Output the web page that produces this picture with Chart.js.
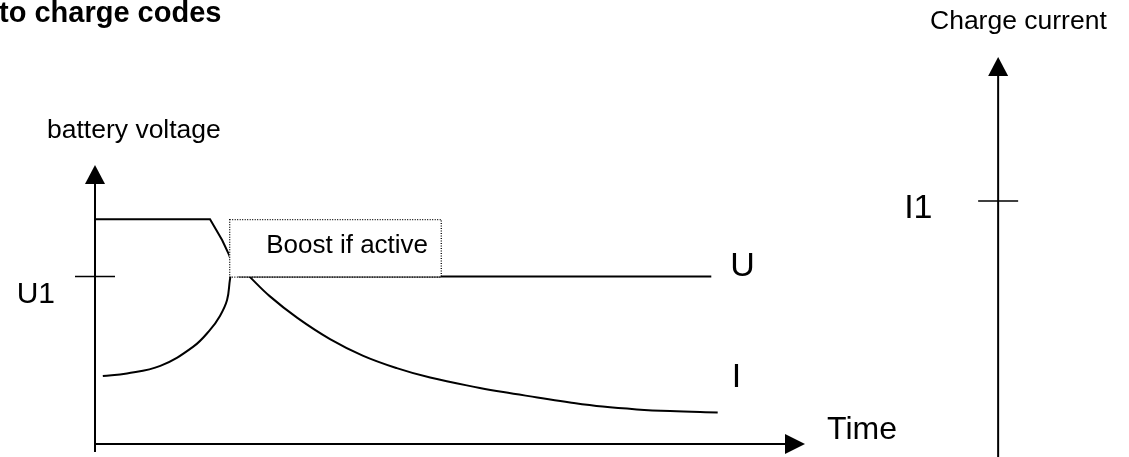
<!DOCTYPE html>
<html>
<head>
<meta charset="utf-8">
<script src="https://cdn.jsdelivr.net/npm/chart.js@4"></script>
<style>
  html, body { margin: 0; padding: 0; background: #fff; }
  #wrap { width: 1129px; height: 457px; position: relative; }
</style>
</head>
<body>
<div id="wrap"><canvas id="chart"></canvas></div>
<script>
// battery voltage U (time units, level units)
const uTime  = [0, 16.2, 17.0, 17.9, 18.9, 19.6, 20.3, 86.8];
const uLevel = [80.6, 80.6, 77.1, 73.1, 67.7, 62.4, 60, 60];

// charge current I, rising part (ends under the boost box)
const iRiseTime  = [1.1, 4.5, 9.2, 13.8, 16.2, 17.6, 18.6, 19.0, 19.3];
const iRiseLevel = [24.4, 25.3, 28.0, 34.8, 40.9, 45.9, 51.6, 58.8, 63.1];

// charge current I, falling part
const iFallTime  = [20.6, 21.8, 24.6, 28.5, 33.1, 37.7, 42.5, 47.2, 54.2, 57.5, 62.3, 66.9, 71.5, 76.3, 81.0, 87.7];
const iFallLevel = [63.0, 59.9, 53.0, 45.2, 37.6, 31.7, 27.2, 23.8, 20.1, 18.6, 16.7, 14.9, 13.4, 12.4, 11.8, 11.3];

// axes and markers
const timeAxisEnd = 100;
const voltAxisTop = 100;
const axisFloor = -2.9;
const u1Level = 60;
const currentAxisTime = 127.2;
const currentAxisTop = 138.7;
const i1Level = 87.1;

// "Boost if active" box
const boostFrom = 18.9;
const boostTo = 48.7;
const boostTop = 80.6;
const boostBottom = 60;

const toPoints = (xs, ys) => xs.map((v, i) => ({ x: v, y: ys[i] }));

const FONT = '"Liberation Sans", Arial, sans-serif';

const diagram = {
    id: 'diagram',
    afterDatasetsDraw(chart) {
        const ctx = chart.ctx;
        const sx = chart.scales.x, sy = chart.scales.y;
        const px = v => sx.getPixelForValue(v);
        const py = v => sy.getPixelForValue(v);

        ctx.save();
        ctx.strokeStyle = '#000';
        ctx.fillStyle = '#000';

        // boost box
        const bx0 = px(boostFrom), bx1 = px(boostTo), by0 = py(boostTop), by1 = py(boostBottom);
        ctx.fillStyle = '#fff';
        ctx.fillRect(bx0, by0, bx1 - bx0, by1 - by0);
        ctx.setLineDash([1, 1.5]);
        ctx.lineWidth = 1.3;
        ctx.strokeRect(bx0 + 0.5, by0 + 0.5, bx1 - bx0, by1 - by0);
        ctx.setLineDash([]);
        ctx.fillStyle = '#000';

        function arrowUp(x, tip) {
            ctx.beginPath();
            ctx.moveTo(x, tip);
            ctx.lineTo(x - 10, tip + 19);
            ctx.lineTo(x + 10, tip + 19);
            ctx.closePath();
            ctx.fill();
        }

        ctx.lineWidth = 2;
        // voltage axis
        const ox = px(0), oy = py(0);
        ctx.beginPath();
        ctx.moveTo(ox, py(axisFloor));
        ctx.lineTo(ox, py(voltAxisTop) + 18);
        ctx.stroke();
        arrowUp(ox, py(voltAxisTop));

        // time axis
        const tx = px(timeAxisEnd);
        ctx.beginPath();
        ctx.moveTo(ox, oy);
        ctx.lineTo(tx - 18, oy);
        ctx.stroke();
        ctx.beginPath();
        ctx.moveTo(tx, oy);
        ctx.lineTo(tx - 20, oy - 10);
        ctx.lineTo(tx - 20, oy + 10);
        ctx.closePath();
        ctx.fill();

        // current axis
        const cx = px(currentAxisTime);
        ctx.beginPath();
        ctx.moveTo(cx, chart.height + 2);
        ctx.lineTo(cx, py(currentAxisTop) + 18);
        ctx.stroke();
        arrowUp(cx, py(currentAxisTop));

        // ticks
        ctx.lineWidth = 1.5;
        ctx.beginPath();
        ctx.moveTo(ox - 20, py(u1Level));
        ctx.lineTo(ox + 20, py(u1Level));
        ctx.moveTo(cx - 20, py(i1Level));
        ctx.lineTo(cx + 20, py(i1Level));
        ctx.stroke();

        // texts
        ctx.textBaseline = 'alphabetic';
        ctx.textAlign = 'left';
        ctx.font = 'bold 29px ' + FONT;
        ctx.fillText('to charge codes', -1, 22);
        ctx.font = '26.5px ' + FONT;
        ctx.fillText('battery voltage', 47, 138);
        ctx.fillText('Charge current', 930, 29);
        ctx.font = '26px ' + FONT;
        ctx.fillText('Boost if active', bx0 + 37, by0 + 34);
        ctx.font = '30px ' + FONT;
        ctx.textAlign = 'right';
        ctx.fillText('U1', ox - 40, py(u1Level) + 26);
        ctx.textAlign = 'left';
        ctx.font = '34px ' + FONT;
        ctx.fillText('I1', cx - 94, py(i1Level) + 17);
        ctx.fillText('U', px(uTime[uTime.length - 1]) + 19, py(uLevel[uLevel.length - 1]) - 1);
        ctx.fillText('I', px(iFallTime[iFallTime.length - 1]) + 14, py(iFallLevel[iFallLevel.length - 1]) - 25);
        ctx.font = '32px ' + FONT;
        ctx.fillText('Time', tx + 22, oy - 5);

        ctx.restore();
    }
};

const lineStyle = {
    showLine: true,
    borderColor: '#000',
    borderWidth: 2,
    pointRadius: 0
};

new Chart(document.getElementById('chart'), {
    type: 'scatter',
    data: {
        datasets: [
            Object.assign({ label: 'U', data: toPoints(uTime, uLevel), tension: 0 }, lineStyle),
            Object.assign({ label: 'I rise', data: toPoints(iRiseTime, iRiseLevel), tension: 0.4 }, lineStyle),
            Object.assign({ label: 'I fall', data: toPoints(iFallTime, iFallLevel), tension: 0.4 }, lineStyle)
        ]
    },
    options: {
        responsive: true,
        maintainAspectRatio: false,
        animation: false,
        layout: { padding: 0 },
        scales: {
            x: { type: 'linear', display: false, min: -13.38, max: 145.63 },
            y: { type: 'linear', display: false, min: -4.66, max: 159.14 }
        },
        plugins: {
            legend: { display: false },
            tooltip: { enabled: false }
        }
    },
    plugins: [diagram]
});
</script>
</body>
</html>
